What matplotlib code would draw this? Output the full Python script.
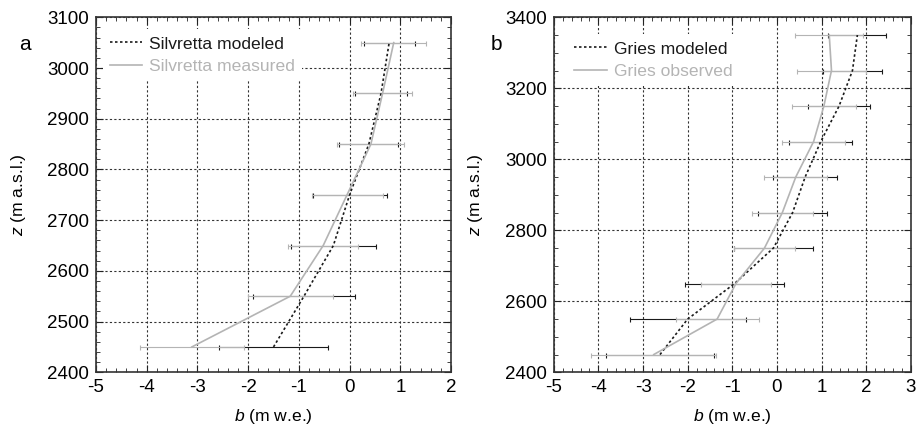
import matplotlib
matplotlib.use("Agg")
import matplotlib.pyplot as plt
from matplotlib.ticker import MultipleLocator

plt.rcParams['font.family'] = ['Liberation Sans', 'DejaVu Sans']
plt.rcParams['font.size'] = 12
plt.rcParams['axes.unicode_minus'] = False
plt.rcParams['mathtext.fontset'] = 'custom'
plt.rcParams['mathtext.rm'] = 'Liberation Sans'
plt.rcParams['mathtext.it'] = 'Liberation Sans:italic'

# --- data: panel a (Silvretta) ---
z_a = [2450, 2550, 2650, 2750, 2850, 2950, 3050]
mod_a = [-1.50, -0.90, -0.32, 0.00, 0.38, 0.62, 0.78]
mod_a_err = [1.08, 1.00, 0.84, 0.73, 0.58, 0.52, 0.50]
meas_a = [-3.11, -1.17, -0.52, -0.05, 0.42, 0.65, 0.87]
meas_a_err = [1.03, 0.84, 0.69, 0.70, 0.66, 0.58, 0.64]

# --- data: panel b (Gries) ---
z_b = [2450, 2550, 2650, 2750, 2850, 2950, 3050, 3150, 3250, 3350]
mod_b = [-2.62, -2.00, -0.95, -0.08, 0.35, 0.63, 0.98, 1.39, 1.69, 1.80]
mod_b_err = [1.21, 1.30, 1.10, 0.89, 0.78, 0.71, 0.71, 0.70, 0.67, 0.65]
obs_b = [-2.76, -1.34, -0.92, -0.28, 0.12, 0.42, 0.82, 1.05, 1.22, 1.17]
obs_b_err = [1.40, 0.93, 0.79, 0.69, 0.68, 0.70, 0.70, 0.72, 0.78, 0.76]

GRAY = "#b4b4b4"
DARK = "#1a1a1a"

fig = plt.figure(figsize=(9.16, 4.30), dpi=100)
ax_a = fig.add_axes([0.1048, 0.1342, 0.3876, 0.8256])
ax_b = fig.add_axes([0.6045, 0.1342, 0.3900, 0.8256])


def draw_panel(ax, z, mod, mod_err, obs, obs_err, lab_mod, lab_obs, anchor):
    ax.errorbar(mod, z, xerr=mod_err, fmt="none", ecolor=DARK, elinewidth=0.8,
                capsize=1.8, capthick=0.8, zorder=3)
    ax.errorbar(obs, z, xerr=obs_err, fmt="none", ecolor=GRAY, elinewidth=0.8,
                capsize=1.8, capthick=0.8, zorder=4)
    ax.plot(mod, z, color=DARK, linestyle=(0, (1.5, 1.5)), lw=1.2,
            label=lab_mod, zorder=5)
    ax.plot(obs, z, color=GRAY, lw=1.2, label=lab_obs, zorder=5)
    ax.grid(True, which="major", color="#333333", linestyle=(0, (2, 2)), lw=0.8)
    ax.set_axisbelow(True)
    ax.tick_params(which="both", direction="in", top=True, right=True,
                   labelsize=13.5, colors="#222222", labelcolor="black")
    ax.tick_params(which="major", length=5, pad=5)
    ax.tick_params(which="minor", length=3)
    for s in ax.spines.values():
        s.set_color("#333333")
        s.set_linewidth(1.2)
    ax.set_xlabel("$b$ (m w.e.)", fontsize=12.6, labelpad=8)
    ax.set_ylabel("$z$ (m a.s.l.)", fontsize=12.6, labelpad=14)
    leg = ax.legend(loc="upper left", bbox_to_anchor=anchor, frameon=True,
                    fontsize=12.6, labelcolor="linecolor", handlelength=1.85,
                    borderaxespad=0.0, handletextpad=0.4, labelspacing=0.4)
    leg.get_frame().set_facecolor("white")
    leg.get_frame().set_edgecolor("none")
    leg.get_frame().set_alpha(1)
    leg.set_zorder(6)


draw_panel(ax_a, z_a, mod_a, mod_a_err, meas_a, meas_a_err,
           "Silvretta modeled", "Silvretta measured", (0.02, 0.966))
ax_a.set_xlim(-5, 2)
ax_a.set_ylim(2400, 3100)
ax_a.xaxis.set_major_locator(MultipleLocator(1))
ax_a.xaxis.set_minor_locator(MultipleLocator(0.2))
ax_a.yaxis.set_major_locator(MultipleLocator(100))
ax_a.yaxis.set_minor_locator(MultipleLocator(20))

draw_panel(ax_b, z_b, mod_b, mod_b_err, obs_b, obs_b_err,
           "Gries modeled", "Gries observed", (0.038, 0.952))
ax_b.set_xlim(-5, 3)
ax_b.set_ylim(2400, 3400)
ax_b.xaxis.set_major_locator(MultipleLocator(1))
ax_b.xaxis.set_minor_locator(MultipleLocator(0.2))
ax_b.yaxis.set_major_locator(MultipleLocator(200))
ax_b.yaxis.set_minor_locator(MultipleLocator(50))

fig.text(19 / 916, 1 - 44 / 430, "a", fontsize=15, va="center")
fig.text(491 / 916, 1 - 44 / 430, "b", fontsize=15, va="center")

fig.savefig("out.png", dpi=100)
